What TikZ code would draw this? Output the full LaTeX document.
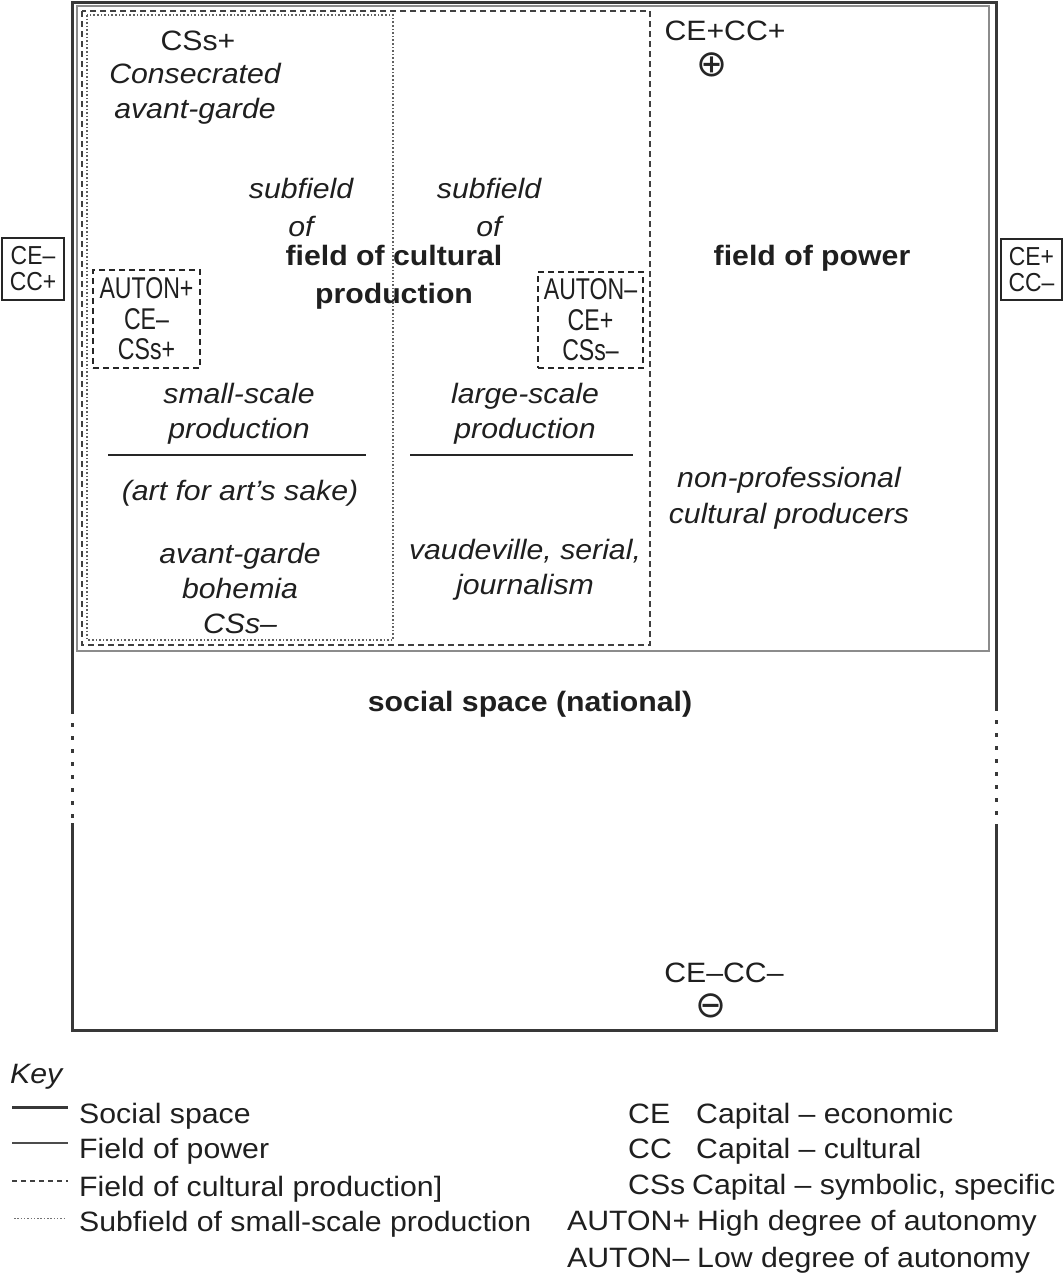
\documentclass[tikz,border=0pt]{standalone}
\usepackage{fontspec}
\setmainfont[FakeStretch=1.08]{Liberation Sans}
\newfontfamily\condfont[FakeStretch=0.77]{Liberation Sans}
\newfontfamily\sidefont[FakeStretch=0.88]{Liberation Sans}
\newfontfamily\symfont{DejaVu Sans}
\begin{document}
\begin{tikzpicture}[x=1pt,y=-1pt,
  txt/.style={inner sep=0pt, align=center, text=black!88, font=\fontsize{28}{35}\selectfont},
  itxt/.style={txt, font=\fontsize{28}{35}\selectfont\itshape},
  btxt/.style={txt, font=\fontsize{28}{38}\selectfont\bfseries},
  ktxt/.style={inner sep=0pt, anchor=base west, text=black!88, font=\fontsize{28}{30}\selectfont},
  symb/.style={inner sep=0pt, text=black!85, font=\fontsize{37}{37}\selectfont\symfont},
  socialline/.style={line width=3pt, draw=black!78},
  powerline/.style={line width=2pt, draw=black!45},
  culturalline/.style={line width=1.4pt, draw=black!75, dash pattern=on 6pt off 4pt},
  subline/.style={line width=1.1pt, draw=black!62, dash pattern=on 1.6pt off 2pt},
  autonbox/.style={draw=black!85, line width=2.2pt, dash pattern=on 6pt off 4pt, inner sep=0pt, align=center, text=black!88, font=\fontsize{30}{30.5}\selectfont\condfont},
  sidebox/.style={draw=black!85, line width=2.5pt, inner sep=0pt, align=center, text=black!88, font=\fontsize{26}{26}\selectfont\sidefont},
  rulebar/.style={line width=2.5pt, draw=black!85}
]
\useasboundingbox (0,0) rectangle (1064,1274);

% social space (outer)
\coordinate (ssA) at (72,710);
\coordinate (ssB) at (72,823);
\coordinate (ssC) at (996,707);
\coordinate (ssD) at (996,827);
\draw[socialline] (ssA) -- (72,2) -- (996,2) -- (ssC);
\draw[socialline] (ssD) -- (996,1030) -- (72,1030) -- (ssB);
\draw[line width=3pt, draw=black!78, dash pattern=on 4pt off 9pt] (ssA) -- (ssB);
\draw[line width=3pt, draw=black!78, dash pattern=on 4pt off 9pt] (ssC) -- (ssD);

% field of power
\draw[powerline] (77,6) rectangle (989,651);
% field of cultural production
\draw[culturalline] (82,11) rectangle (650,645);
% subfield of small-scale production
\draw[subline] (87,15) rectangle (393,640);

% side boxes
\node[sidebox, minimum width=62pt, minimum height=62pt] (lbox) at (33,269) {CE–\\CC+};
\node[sidebox, minimum width=61pt, minimum height=61pt] (rbox) at (1031.5,269.5) {CE+\\CC–};

% texts
\node[txt] (csp) at (198,41) {CSs+};
\node[itxt] (consec) at (195,94) {Consecrated\\avant-garde};
\node[itxt, font=\fontsize{28}{38}\selectfont\itshape] (subl) at (301,207) {subfield\\of};
\node[itxt, font=\fontsize{28}{38}\selectfont\itshape] (subr) at (489,207) {subfield\\of};
\node[btxt] (fcp) at (394,277) {field of cultural\\production};
\node[btxt] (fop) at (812,258) {field of power};

\node[autonbox, minimum width=107pt, minimum height=98pt] (aplus) at (146.5,319) {AUTON+\\CE–\\CSs+};
\node[autonbox, minimum width=105pt, minimum height=96pt] (aminus) at (590.5,320) {AUTON–\\CE+\\CSs–};

\node[itxt] (small) at (239,414) {small-scale\\production};
\node[itxt] (large) at (525,414) {large-scale\\production};
\draw[rulebar] (108,455) -- (366,455);
\draw[rulebar] (410,455) -- (633,455);
\node[itxt] (art) at (240,493) {(art for art’s sake)};
\node[itxt] (avg) at (240,588) {avant-garde\\bohemia\\CSs–};
\node[itxt] (vaud) at (525,570) {vaudeville, serial,\\journalism};
\node[itxt, font=\fontsize{28}{36}\selectfont\itshape] (nonprof) at (789,498) {non-professional\\cultural producers};

\node[txt] (ceccp) at (725,31) {CE+CC+};
\node[symb] (plus) at (712,65) {⊕};
\node[btxt] (social) at (530,704) {social space (national)};
\node[txt] (ceccm) at (724,973) {CE–CC–};
\node[symb] (minus) at (711,1006) {⊖};

% key
\node[ktxt, font=\fontsize{28}{30}\selectfont\itshape] (key) at (10,1083) {Key};
\coordinate (k1a) at (12,1107); \coordinate (k1b) at (68,1107);
\coordinate (k2a) at (12,1143); \coordinate (k2b) at (68,1143);
\coordinate (k3a) at (12,1181); \coordinate (k3b) at (68,1181);
\coordinate (k4a) at (14,1218); \coordinate (k4b) at (66,1218);
\draw[line width=3pt, draw=black!78] (k1a) -- (k1b);
\draw[line width=1.5pt, draw=black!70] (k2a) -- (k2b);
\draw[line width=1.2pt, draw=black!75, dash pattern=on 5pt off 4pt] (k3a) -- (k3b);
\draw[line width=1pt, draw=black!55, dash pattern=on 1.5pt off 1.8pt] (k4a) -- (k4b);
\node[ktxt] (kt1) at (79,1123) {Social space};
\node[ktxt] (kt2) at (79,1158) {Field of power};
\node[ktxt] (kt3) at (79,1196) {Field of cultural production]};
\node[ktxt] (kt4) at (79,1231) {Subfield of small-scale production};

\node[ktxt] (ab1) at (628,1123) {CE};
\node[ktxt] (ds1) at (696,1123) {Capital – economic};
\node[ktxt] (ab2) at (628,1158) {CC};
\node[ktxt] (ds2) at (696,1158) {Capital – cultural};
\node[ktxt] (ab3) at (628,1194) {CSs};
\node[ktxt] (ds3) at (692,1194) {Capital – symbolic, specific};
\node[ktxt] (ab4) at (567,1230) {AUTON+};
\node[ktxt] (ds4) at (697,1230) {High degree of autonomy};
\node[ktxt] (ab5) at (567,1267) {AUTON–};
\node[ktxt] (ds5) at (697,1267) {Low degree of autonomy};
\end{tikzpicture}
\end{document}
